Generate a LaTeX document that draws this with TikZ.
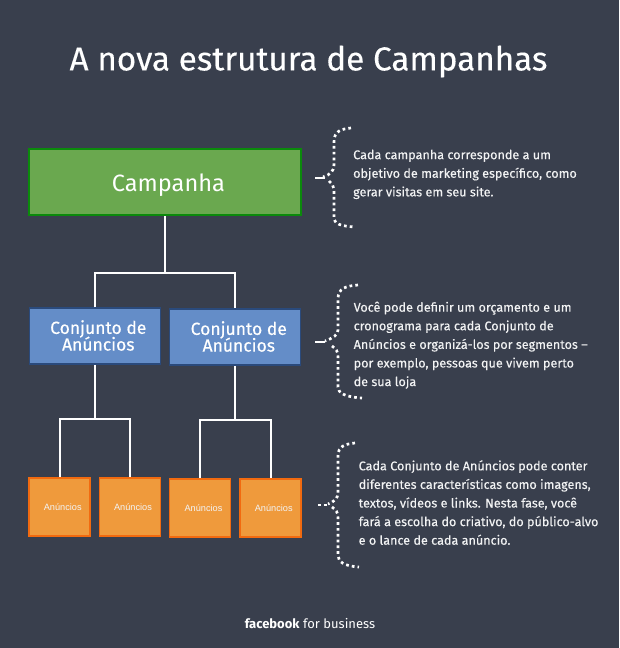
\documentclass[tikz,border=0pt]{standalone}
\usepackage{fontspec}
\setmainfont{Fira Sans}
\newfontfamily\arialf{Liberation Sans}
\newfontfamily\descf[FakeBold=0.25]{Fira Sans}
\newfontfamily\conjf[FakeBold=0.4]{Fira Sans}
\definecolor{bg}{HTML}{393F4D}
\definecolor{gfill}{HTML}{6AA84F}
\definecolor{gline}{HTML}{0B8A0B}
\definecolor{bfill}{HTML}{648DC8}
\definecolor{bline}{HTML}{2A4A7C}
\definecolor{ofill}{HTML}{EF9A3C}
\definecolor{oline}{HTML}{F26A0F}
\definecolor{txt}{HTML}{F2F3F4}
\tikzset{
  x=1pt,y=-1pt,
  camp/.style={draw=gline,fill=gfill,line width=2pt,minimum width=272pt,minimum height=66pt,inner sep=0pt},
  conj/.style={draw=bline,fill=bfill,line width=1.5pt,minimum width=131pt,minimum height=56pt,inner sep=0pt},
  conjtext/.style={text=white,align=center,inner sep=0pt,font=\conjf\fontsize{17.5}{17}\selectfont},
  anun/.style={draw=oline,fill=ofill,line width=1.8pt,minimum width=61pt,minimum height=58pt,inner sep=0pt},
  anuntext/.style={text=txt,inner sep=0pt,font=\arialf\fontsize{9.2}{10}\selectfont},
  link/.style={draw=white,line width=2pt},
  dots/.style={draw=white,line width=2.7pt,dash pattern=on 2.7pt off 3.1pt},
  tip/.style={draw=white,line width=2.5pt},
  desc/.style={text=txt,anchor=north west,inner sep=0pt,align=left,font=\descf\fontsize{12.6}{18.6}\selectfont},
}
\begin{document}
\begin{tikzpicture}
\useasboundingbox (0,0) rectangle (619,648);
\fill[bg] (0,0) rectangle (619,648);
\node[text=white,font=\descf\fontsize{33.2}{36}\selectfont,inner sep=0pt] (title) at (308.5,61.5) {A nova estrutura de Campanhas};

\node[camp] (c) at (165,182) {};
\node[text=white,inner sep=0pt,font=\fontsize{23.6}{26}\selectfont] (ct) at (168.5,185.5) {Campanha};
\node[conj] (j1) at (95,336) {};
\node[conj] (j2) at (235,337) {};
\node[conjtext] (j1t) at (98.3,335.5) {Conjunto de\\[-2pt]Anúncios};
\node[conjtext] (j2t) at (238.8,336.5) {Conjunto de\\[-2pt]Anúncios};
\node[anun] (a1) at (59.5,507) {};
\node[anun] (a2) at (130,507) {};
\node[anun] (a3) at (200,508) {};
\node[anun] (a4) at (270.5,508) {};
\node[anuntext] (a1t) at (62.7,507) {Anúncios};
\node[anuntext] (a2t) at (133,507) {Anúncios};
\node[anuntext] (a3t) at (203.5,508) {Anúncios};
\node[anuntext] (a4t) at (273.7,508) {Anúncios};

\coordinate (h0) at (165,273);
\coordinate (h1) at (95,419);
\coordinate (h2) at (235,420);
\draw[link] (c.south) -- (h0);
\draw[link] (j1.north) |- (h0) -| (j2.north);
\draw[link] (j1.south) -- (h1);
\draw[link] (j2.south) -- (h2);
\draw[link] (a1.north) |- (h1) -| (a2.north);
\draw[link] (a3.north) |- (h2) -| (a4.north);

% braces
\draw[dots] (351,128) .. controls (341,129) and (334,131) .. (334,142) -- (334,165) .. controls (334,171) and (330,175) .. (323,177);
\draw[dots] (329,181) .. controls (332,184) and (334,186) .. (334,192) -- (334,217) .. controls (334,224) and (340,226) .. (355,227);
\draw[tip] (315,178) -- (325,178);

\draw[dots] (358,285) .. controls (346,286) and (338,288) .. (338,299) -- (338,330) .. controls (338,335) and (333,338) .. (325,341);
\draw[dots] (332,346) .. controls (336,349) and (338,351) .. (338,357) -- (338,387) .. controls (338,393) and (345,397) .. (362,398);
\draw[tip] (315,342) -- (325,342);

\draw[dots] (355,443) .. controls (345,444) and (338,446) .. (338,456) -- (338,493) .. controls (338,498) and (334,502) .. (328,504);
\draw[dots] (332,507) .. controls (336,510) and (338,512) .. (338,518) -- (338,555) .. controls (338,562) and (344,566) .. (359,567);
\draw[dots] (318,505) -- (328,505);

\node[desc] (t1) at (353,149.5) {Cada campanha corresponde a um\\objetivo de marketing específico, como\\gerar visitas em seu site.};
\node[desc] (t2) at (353.5,301.5) {Você pode definir um orçamento e um\\cronograma para cada Conjunto de\\Anúncios e organizá-los por segmentos –\\por exemplo, pessoas que vivem perto\\de sua loja};
\node[desc] (t3) at (358.5,460) {Cada Conjunto de Anúncios pode conter\\diferentes características como imagens,\\textos, vídeos e links. Nesta fase, você\\fará a escolha do criativo, do público-alvo\\e o lance de cada anúncio.};

\node[text=white,inner sep=0pt,font=\fontsize{13}{15}\selectfont] (fb) at (310,624) {\textbf{facebook} for business};
\end{tikzpicture}
\end{document}
